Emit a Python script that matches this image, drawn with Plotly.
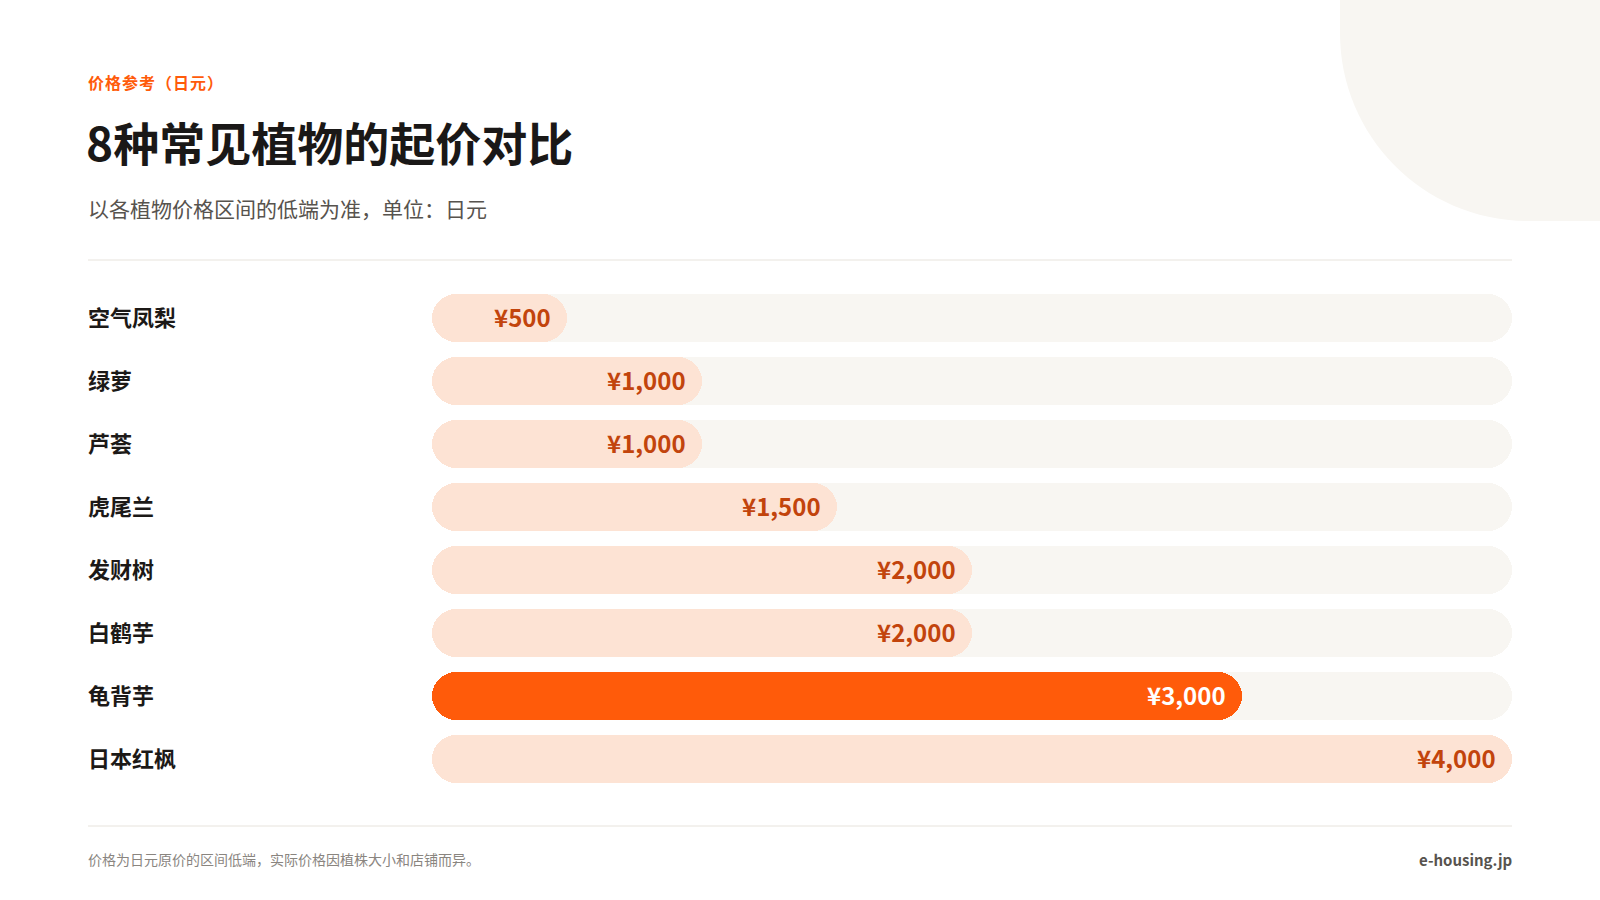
import plotly.graph_objects as go

# ---------------- data ----------------
categories = ["空气凤梨", "绿萝", "芦荟", "虎尾兰", "发财树", "白鹤芋", "龟背芋", "日本红枫"]
prices = [500, 1000, 1000, 1500, 2000, 2000, 3000, 4000]
highlight = "龟背芋"
scale_max = 4000
value_labels = ["¥{:,}".format(v) for v in prices]

kicker = "价格参考（日元）"
title = "8种常见植物的起价对比"
subtitle = "以各植物价格区间的低端为准，单位：日元"
footnote = "价格为日元原价的区间低端，实际价格因植株大小和店铺而异。"
brand = "e-housing.jp"

# ---------------- style ----------------
W, H = 1600, 900
ML, MR, MT, MB = 432, 88, 286, 110
PW, PH = W - ML - MR, H - MT - MB
FONT = "Noto Sans CJK SC, Noto Sans, sans-serif"
ORANGE = "#FF5B0A"
PEACH = "#FDE3D4"
TRACK = "#F8F6F2"
VAL_DARK = "#C2440C"
BAR_W = 0.762
RADIUS = 24


def px(x):
    return (x - ML) / PW


def py(y):
    return (H - MB - y) / PH


fig = go.Figure()
zeros = [0] * len(categories)

# track (background pill); explicit base so both ends get rounded
fig.add_trace(go.Bar(
    y=categories, x=[scale_max] * len(categories), base=zeros,
    orientation="h", width=BAR_W, marker=dict(color=TRACK, cornerradius=RADIUS, line=dict(width=0)),
    hoverinfo="skip", showlegend=False,
))

# value bars
bar_colors = [ORANGE if c == highlight else PEACH for c in categories]
fig.add_trace(go.Bar(
    y=categories, x=prices, base=zeros,
    orientation="h", width=BAR_W,
    marker=dict(color=bar_colors, cornerradius=RADIUS, line=dict(width=0)),
    hoverinfo="skip", showlegend=False,
))

annotations = []
# value labels inside the bar end
for c, v, lab in zip(categories, prices, value_labels):
    annotations.append(dict(
        x=v, y=c, xref="x", yref="y", text=lab, showarrow=False,
        xanchor="right", yanchor="middle", xshift=-14, yshift=1,
        font=dict(family=FONT, size=24, weight=700, color="#FFFFFF" if c == highlight else VAL_DARK),
    ))
# category labels
for c in categories:
    annotations.append(dict(
        x=px(86), y=c, xref="paper", yref="y", text=c, showarrow=False,
        xanchor="left", yanchor="middle", yshift=2,
        font=dict(family=FONT, size=22, weight=700, color="#1C1917"),
    ))

# header / footer texts
annotations += [
    dict(x=px(86), y=py(82), xref="paper", yref="paper", text="\u200a".join(kicker), showarrow=False,
         xanchor="left", yanchor="middle", font=dict(family=FONT, size=16, weight=700, color=ORANGE)),
    dict(x=px(84), y=py(141), xref="paper", yref="paper", text=title, showarrow=False,
         xanchor="left", yanchor="middle", font=dict(family=FONT, size=46, weight=700, color="#1A1817")),
    dict(x=px(86), y=py(208), xref="paper", yref="paper", text=subtitle, showarrow=False,
         xanchor="left", yanchor="middle", font=dict(family=FONT, size=21, color="#57534E")),
    dict(x=px(86), y=py(859), xref="paper", yref="paper", text=footnote, showarrow=False,
         xanchor="left", yanchor="middle", font=dict(family=FONT, size=14, color="#8A857F")),
    dict(x=px(1514), y=py(859), xref="paper", yref="paper", text=brand, showarrow=False,
         xanchor="right", yanchor="middle", font=dict(family=FONT, size=15, weight=700, color="#57534E")),
]

# decorative corner blob (rounded bottom-left corner), built in pixel space
R, cx, cy, bottom, left = 188, 1528, 33, 221, 1340
k = 0.5523 * R
blob_path = (
    f"M {px(left)},{py(-5)} L {px(left)},{py(cy)} "
    f"C {px(left)},{py(cy + k)} {px(cx - k)},{py(bottom)} {px(cx)},{py(bottom)} "
    f"L {px(1610)},{py(bottom)} L {px(1610)},{py(-5)} Z"
)

shapes = [
    dict(type="path", xref="paper", yref="paper", layer="below", path=blob_path,
         fillcolor=TRACK, line=dict(width=0)),
    dict(type="line", xref="paper", yref="paper", x0=px(88), x1=px(1512), y0=py(260), y1=py(260),
         line=dict(color="#E7E3DC", width=1)),
    dict(type="line", xref="paper", yref="paper", x0=px(88), x1=px(1512), y0=py(826), y1=py(826),
         line=dict(color="#E7E3DC", width=1)),
]

fig.update_layout(
    width=W, height=H,
    margin=dict(l=ML, r=MR, t=MT, b=MB, pad=0),
    paper_bgcolor="#FFFFFF", plot_bgcolor="rgba(0,0,0,0)",
    barmode="overlay", bargap=0,
    showlegend=False,
    xaxis=dict(range=[0, scale_max], visible=False, fixedrange=True),
    yaxis=dict(categoryorder="array", categoryarray=categories, autorange="reversed",
               visible=False, fixedrange=True),
    annotations=annotations, shapes=shapes,
    font=dict(family=FONT),
)

fig.write_html("out.html", config={"displayModeBar": False},
               post_script="document.body.style.margin='0';document.body.style.overflow='hidden';")
